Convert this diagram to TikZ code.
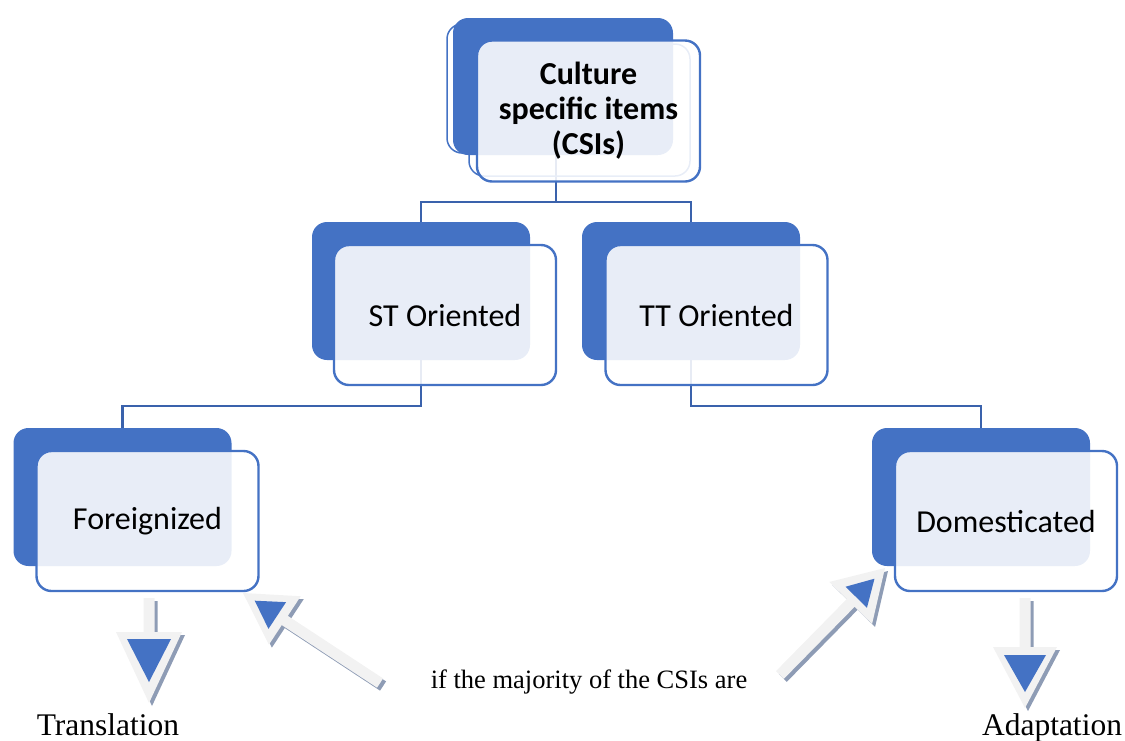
\documentclass[tikz,border=0pt]{standalone}
\usepackage{fontspec}
\setmainfont{Liberation Serif}
\newfontfamily\boxfont{Carlito}
\definecolor{cblue}{HTML}{4472C4}
\definecolor{cline}{HTML}{3A62AC}
\definecolor{agray}{HTML}{F2F2F2}
\definecolor{ashadow}{HTML}{8E9CB5}
\newcommand\blockarrow[9]{%
  \begin{scope}[shift={(#1,#2)}, shift={(3,3)}, rotate=#3]
    \fill[ashadow] (0,0) -- (-#5,#6) -- (-#5,5.5) -- (-#4,5.5) -- (-#4,-5.5) -- (-#5,-5.5) -- (-#5,-#6) -- cycle;
  \end{scope}
  \begin{scope}[shift={(#1,#2)}, rotate=#3]
    \fill[agray] (0,0) -- (-#5,#6) -- (-#5,5.5) -- (-#4,5.5) -- (-#4,-5.5) -- (-#5,-5.5) -- (-#5,-#6) -- cycle;
    \fill[cblue] (-#7,0) -- (-#8,#9) -- (-#8,-#9) -- cycle;
  \end{scope}}
\begin{document}
\begin{tikzpicture}[x=1pt,y=-1pt,
  backbox/.style={draw=none, fill=cblue, rounded corners=15pt, minimum width=218pt, minimum height=138pt, inner sep=0pt, outer sep=0pt},
  frontbox/.style={draw=cblue, line width=2.4pt, fill=white, fill opacity=0.88, text opacity=1, rounded corners=15pt, minimum width=222pt, minimum height=140pt, inner sep=0pt, outer sep=0pt, font=\boxfont\fontsize{32}{35}\selectfont, align=center},
  conn/.style={draw=cline, line width=2.6pt},
  label/.style={anchor=base, inner sep=0pt}]
\useasboundingbox (0,0) rectangle (1125,740);
% back boxes
\node[backbox, fill=white, draw=cblue, line width=1.5pt, minimum width=218pt, minimum height=129pt] (csiA) at (556,88.5) {};
\node[backbox, minimum width=220pt, minimum height=137pt] (csiB) at (563,86.5) {};
\node[backbox] (stB) at (421,291) {};
\node[backbox] (ttB) at (691,291) {};
\node[backbox] (foB) at (122.5,497) {};
\node[backbox] (doB) at (981,497) {};
% connectors
\draw[conn] (csiA.south) -- (csiA.south |- 0,202) -| (stB.north);
\draw[conn] (csiA.south |- 0,202) -| (ttB.north);
\draw[conn] (stB.south) -- (stB.south |- 0,406) -| (foB.north);
\draw[conn] (ttB.south) -- (ttB.south |- 0,406) -| (doB.north);
% front boxes
\node[frontbox, fill=none, line width=1.5pt, minimum width=221pt, minimum height=132pt] (csiC) at (579.5,110) {};
\node[frontbox, minimum width=223pt, minimum height=141pt, font=\boxfont\bfseries\fontsize{32}{35}\selectfont] (csi) at (588.5,111) {Culture\\specific items\\(CSIs)};
\node[frontbox] (st) at (445,315) {ST Oriented};
\node[frontbox] (tt) at (716.5,315) {TT Oriented};
\node[frontbox] (fo) at (147.5,521) {Foreignized};
\node[frontbox] (dom) at (1006,521) {Domesticated};
% block arrows
\blockarrow{149}{703}{-90}{105}{71}{33}{21}{64}{22}
\blockarrow{1025}{708}{-90}{110}{61}{32}{16}{53}{21}
\blockarrow{243}{593}{146.7}{164}{50}{29}{14}{41}{16}
\blockarrow{885}{568}{45.5}{150}{49}{30}{15}{41}{15}
% texts
\node[label, font=\fontsize{31.5}{36}\selectfont] (transl) at (108,735) {Translation};
\node[label, font=\fontsize{31.5}{36}\selectfont] (adapt) at (1052,735) {Adaptation};
\node[label, font=\fontsize{26.5}{32}\selectfont] (cond) at (589,688) {if the majority of the CSIs are};
\end{tikzpicture}
\end{document}
